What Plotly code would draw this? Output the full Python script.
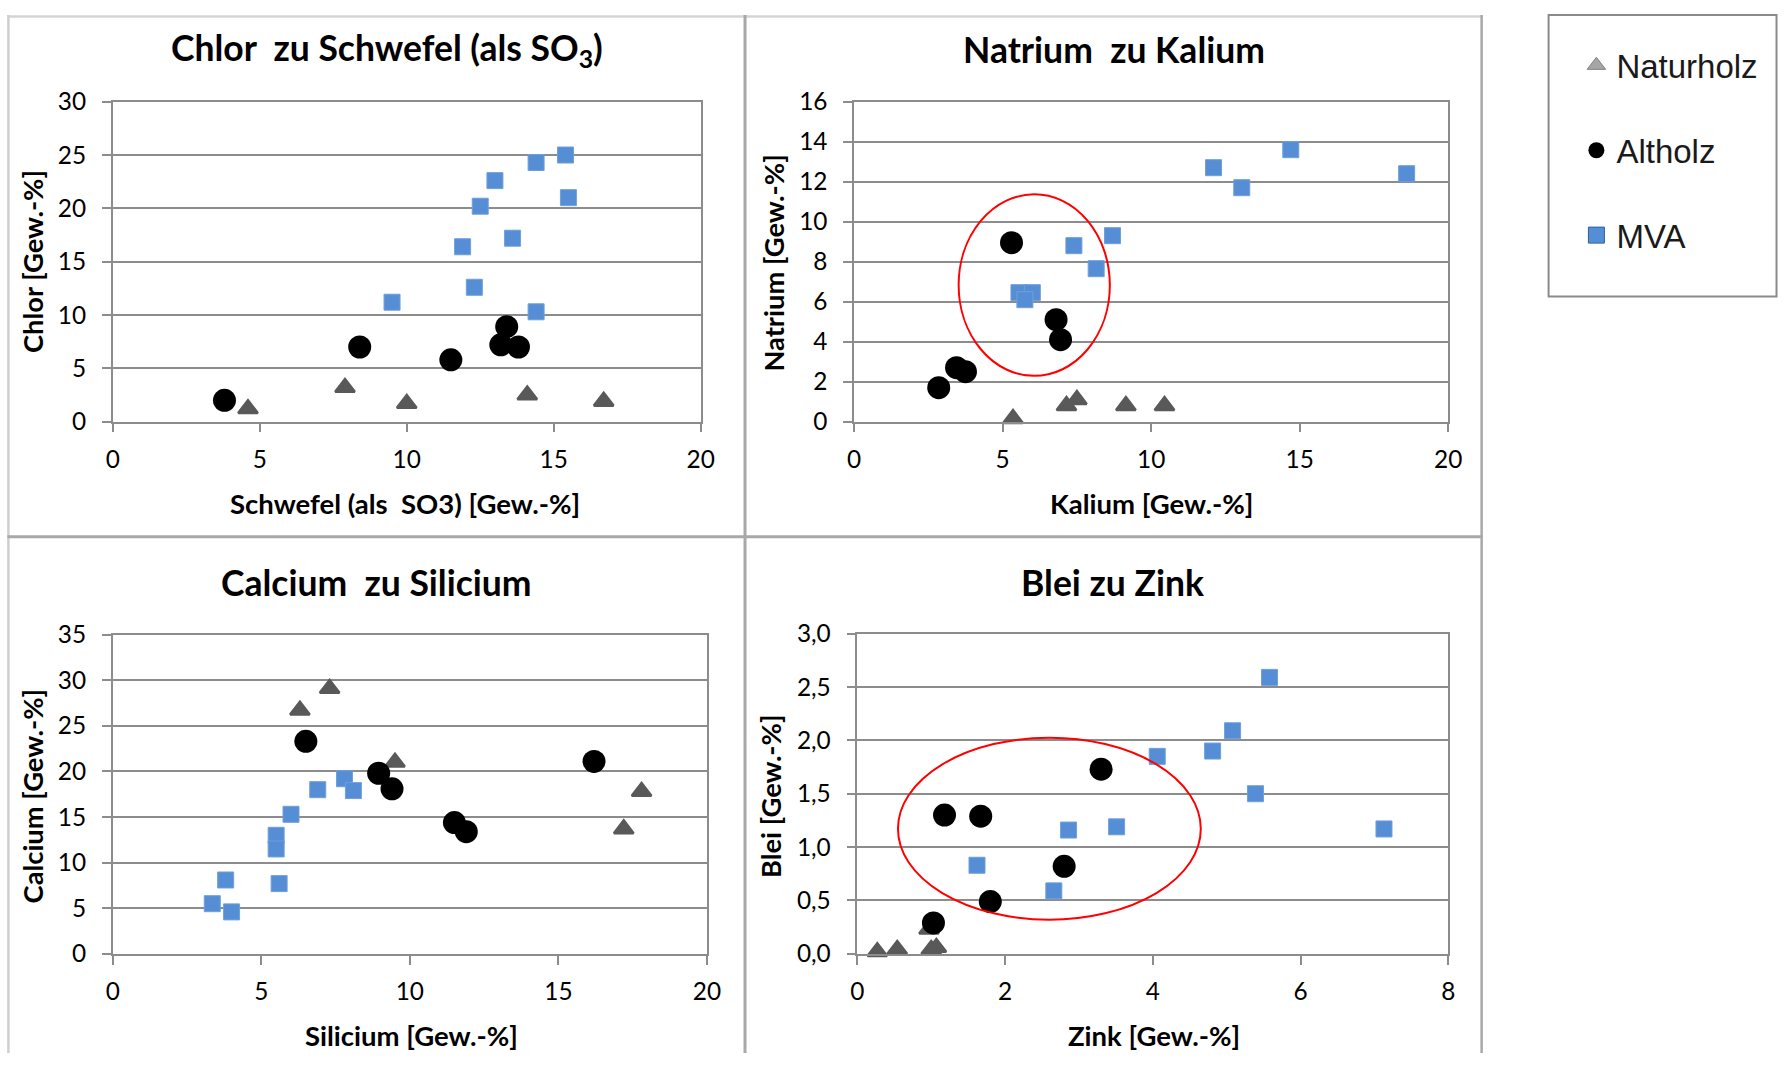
import plotly.graph_objects as go

W, H = 1792, 1067

# ---------------- data ----------------
series_names = ["Naturholz", "Altholz", "MVA"]

# Panel 1: Chlor zu Schwefel
p1_nat_x = [4.6, 7.9, 10.0, 14.1, 16.7]
p1_nat_y = [1.2, 3.2, 1.7, 2.5, 1.9]
p1_alt_x = [3.8, 8.4, 11.5, 13.4, 13.2, 13.8]
p1_alt_y = [2.0, 7.0, 5.8, 8.9, 7.2, 7.0]
p1_mva_x = [9.5, 11.9, 12.3, 12.5, 13.0, 13.6, 14.4, 15.4, 15.5, 14.4]
p1_mva_y = [11.2, 16.4, 12.6, 20.2, 22.6, 17.2, 24.3, 25.0, 21.0, 10.3]

# Panel 2: Natrium zu Kalium
p2_nat_x = [5.35, 7.15, 7.5, 9.15, 10.45]
p2_nat_y = [0.15, 0.8, 1.1, 0.8, 0.8]
p2_alt_x = [5.3, 6.8, 6.95, 3.45, 3.75, 2.85]
p2_alt_y = [8.95, 5.1, 4.1, 2.7, 2.5, 1.7]
p2_mva_x = [5.55, 6.0, 5.75, 7.4, 8.7, 8.15, 12.1, 13.05, 14.7, 18.6]
p2_mva_y = [6.45, 6.45, 6.1, 8.8, 9.3, 7.65, 12.7, 11.7, 13.6, 12.4]

# Panel 3: Calcium zu Silicium
p3_nat_x = [6.3, 7.3, 9.5, 17.2, 17.8]
p3_nat_y = [26.7, 29.1, 21.0, 13.7, 17.8]
p3_alt_x = [6.5, 8.95, 9.4, 11.5, 11.9, 16.2]
p3_alt_y = [23.3, 19.8, 18.1, 14.4, 13.4, 21.1]
p3_mva_x = [3.35, 3.8, 4.0, 5.5, 5.5, 5.6, 6.0, 6.9, 7.8, 8.1]
p3_mva_y = [5.5, 8.1, 4.6, 13.0, 11.5, 7.7, 15.3, 18.0, 19.2, 17.9]

# Panel 4: Blei zu Zink
p4_nat_x = [0.27, 0.54, 0.97, 1.0, 1.07]
p4_nat_y = [0.02, 0.04, 0.23, 0.04, 0.06]
p4_alt_x = [1.18, 1.67, 3.3, 2.8, 1.8, 1.03]
p4_alt_y = [1.30, 1.29, 1.73, 0.82, 0.49, 0.29]
p4_mva_x = [1.62, 2.66, 2.86, 3.51, 4.06, 4.81, 5.08, 5.39, 5.58, 7.13]
p4_mva_y = [0.83, 0.59, 1.16, 1.19, 1.85, 1.9, 2.09, 1.5, 2.59, 1.17]

titles = ["Chlor\u00a0 zu Schwefel (als SO<sub>3</sub>)", "Natrium\u00a0 zu Kalium",
          "Calcium\u00a0 zu Silicium", "Blei zu Zink"]
x_titles = ["Schwefel (als\u00a0 SO3) [Gew.-%]", "Kalium [Gew.-%]",
            "Silicium [Gew.-%]", "Zink [Gew.-%]"]
y_titles = ["Chlor [Gew.-%]", "Natrium [Gew.-%]", "Calcium [Gew.-%]", "Blei [Gew.-%]"]

# ---------------- placement helpers ----------------
# the page photograph maps figure pixels f to screen pixels s = A + B*f;
# target screen positions are converted back to figure pixels here.
AX, BX = 6.6, 0.9888
AY, BY = 15.1, 0.9739


def fx(s):
    return (s - AX) / BX


def fy(s):
    return (s - AY) / BY


def px(s):
    return min(max(fx(s), 0.0), W) / W


def py(s):
    return 1 - min(max(fy(s), 0.0), H) / H


FONT = "Lato, Carlito, 'Open Sans', sans-serif"
GRID = "#8c8c8c"
NAT_C = "#595959"
ALT_C = "#000000"
MVA_C = "#558ED5"

panels = [
    dict(n="", xd=(112.4, 700.7), yd=(101.9, 422.2), xr=[0, 20], yr=[0, 30], xdt=5, ydt=5, yfmt="d",
         data=(p1_nat_x, p1_nat_y, p1_alt_x, p1_alt_y, p1_mva_x, p1_mva_y),
         title=(387, 50), xt=(405, 504), yt=(32, 262)),
    dict(n="2", xd=(854.1, 1448.6), yd=(101.9, 422.2), xr=[0, 20], yr=[0, 16], xdt=5, ydt=2, yfmt="d",
         data=(p2_nat_x, p2_nat_y, p2_alt_x, p2_alt_y, p2_mva_x, p2_mva_y),
         title=(1114, 50), xt=(1152, 504), yt=(774, 263)),
    dict(n="3", xd=(112.4, 706.9), yd=(635.4, 955.0), xr=[0, 20], yr=[0, 35], xdt=5, ydt=5, yfmt="d",
         data=(p3_nat_x, p3_nat_y, p3_alt_x, p3_alt_y, p3_mva_x, p3_mva_y),
         title=(376, 583), xt=(411, 1037), yt=(32, 797)),
    dict(n="4", xd=(857.4, 1448.6), yd=(634.4, 955.0), xr=[0, 8], yr=[0, 3], xdt=2, ydt=0.5, yfmt=".1f",
         data=(p4_nat_x, p4_nat_y, p4_alt_x, p4_alt_y, p4_mva_x, p4_mva_y),
         title=(1113, 583), xt=(1154, 1037), yt=(770, 797)),
]

fig = go.Figure()
layout = dict(
    width=W, height=H, margin=dict(l=0, r=0, t=0, b=0),
    paper_bgcolor="white", plot_bgcolor="white",
    separators=",.",
    showlegend=True,
)
annotations = []
shapes = []

for ti, p in enumerate(panels):
    n = p["n"]
    xa, ya = "x" + n, "y" + n
    nx, ny, ax_, ay_, mx, my = p["data"]
    fig.add_trace(go.Scatter(x=nx, y=ny, xaxis=xa, yaxis=ya, mode="markers", showlegend=False,
                             cliponaxis=False, name=series_names[0],
                             marker=dict(symbol="triangle-up", size=17, color=NAT_C,
                                         line=dict(width=2.5, color=NAT_C))))
    fig.add_trace(go.Scatter(x=ax_, y=ay_, xaxis=xa, yaxis=ya, mode="markers", showlegend=False,
                             cliponaxis=False, name=series_names[1],
                             marker=dict(symbol="circle", size=23, color=ALT_C)))
    fig.add_trace(go.Scatter(x=mx, y=my, xaxis=xa, yaxis=ya, mode="markers", showlegend=False,
                             cliponaxis=False, name=series_names[2],
                             marker=dict(symbol="square", size=16, color=MVA_C,
                                         line=dict(width=1, color="#6f9fdc"))))
    common = dict(showline=True, linecolor=GRID, linewidth=1.5, mirror=True,
                  ticks="outside", ticklen=9, tickwidth=1.5, tickcolor=GRID,
                  tickfont=dict(family=FONT, size=24.4, color="#000000"),
                  zeroline=False, fixedrange=True)
    layout["xaxis" + n] = dict(domain=[px(p["xd"][0]), px(p["xd"][1])], range=p["xr"], dtick=p["xdt"],
                               tick0=0, anchor=ya, showgrid=False, ticklabelstandoff=6, **common)
    layout["yaxis" + n] = dict(domain=[py(p["yd"][1]), py(p["yd"][0])], range=p["yr"], dtick=p["ydt"],
                               tick0=0, anchor=xa, showgrid=True, gridcolor=GRID, gridwidth=1.5,
                               tickformat=p["yfmt"], ticklabelstandoff=11, **common)
    annotations.append(dict(text="<b>%s</b>" % titles[ti], x=px(p["title"][0]), y=py(p["title"][1]),
                            xref="paper", yref="paper", showarrow=False, xanchor="center", yanchor="middle",
                            font=dict(family=FONT, size=35.5, color="#000000")))
    annotations.append(dict(text="<b>%s</b>" % x_titles[ti], x=px(p["xt"][0]), y=py(p["xt"][1]),
                            xref="paper", yref="paper", showarrow=False, xanchor="center", yanchor="middle",
                            font=dict(family=FONT, size=27.5, color="#000000")))
    annotations.append(dict(text="<b>%s</b>" % y_titles[ti], x=px(p["yt"][0]), y=py(p["yt"][1]),
                            xref="paper", yref="paper", showarrow=False, xanchor="center", yanchor="middle",
                            textangle=-90, font=dict(family=FONT, size=27.3, color="#000000")))

# red ellipses (highlighted areas)
shapes.append(dict(type="circle", xref="x2", yref="y2", x0=3.52, x1=8.61, y0=2.29, y1=11.37,
                   line=dict(color="#ff0000", width=2)))
shapes.append(dict(type="circle", xref="x4", yref="y4", x0=0.55, x1=4.65, y0=0.32, y1=2.025,
                   line=dict(color="#ff0000", width=2)))

# panel frames
FR = "#a8a8a8"
shapes += [
    dict(type="line", xref="paper", yref="paper", x0=px(7), x1=px(1483), y0=1 - 1.5 / H, y1=1 - 1.5 / H,
         line=dict(color="#d4d4d4", width=2.5)),
    dict(type="line", xref="paper", yref="paper", x0=px(8), x1=px(8), y0=1, y1=0,
         line=dict(color="#cfcfcf", width=2.5)),
    dict(type="line", xref="paper", yref="paper", x0=px(1482), x1=px(1482), y0=1, y1=0,
         line=dict(color=FR, width=2.5)),
    dict(type="line", xref="paper", yref="paper", x0=px(745), x1=px(745), y0=1, y1=0,
         line=dict(color=FR, width=3)),
    dict(type="line", xref="paper", yref="paper", x0=px(7), x1=px(1483), y0=py(537.5), y1=py(537.5),
         line=dict(color=FR, width=3)),
]
# legend box
shapes.append(dict(type="rect", xref="paper", yref="paper", x0=px(1549), x1=1 - 1.5 / W, y0=py(11), y1=py(297),
                   line=dict(color="#8a8a8a", width=2), fillcolor="rgba(0,0,0,0)"))

# legend-only entries
fig.add_trace(go.Scatter(x=[None], y=[None], mode="markers", name=series_names[0], legendgroup="a",
                         marker=dict(symbol="triangle-up", size=16, color="#a6a6a6",
                                     line=dict(width=1, color="#7f7f7f"))))
fig.add_trace(go.Scatter(x=[None], y=[None], mode="markers", name=series_names[1], legendgroup="b",
                         marker=dict(symbol="circle", size=16, color="#000000")))
fig.add_trace(go.Scatter(x=[None], y=[None], mode="markers", name=series_names[2], legendgroup="c",
                         marker=dict(symbol="square", size=16, color=MVA_C,
                                     line=dict(width=1, color="#2f5f9f"))))

layout["legend"] = dict(x=1588 / W, y=1 - 23 / H, xanchor="left", yanchor="top",
                        bgcolor="rgba(0,0,0,0)", borderwidth=0, tracegroupgap=39,
                        itemwidth=30, traceorder="grouped",
                        font=dict(family="'Liberation Sans', Arial, sans-serif", size=33, color="#1a1a1a"))
layout["annotations"] = annotations
layout["shapes"] = shapes
fig.update_layout(**layout)

fig.write_html("out.html")
